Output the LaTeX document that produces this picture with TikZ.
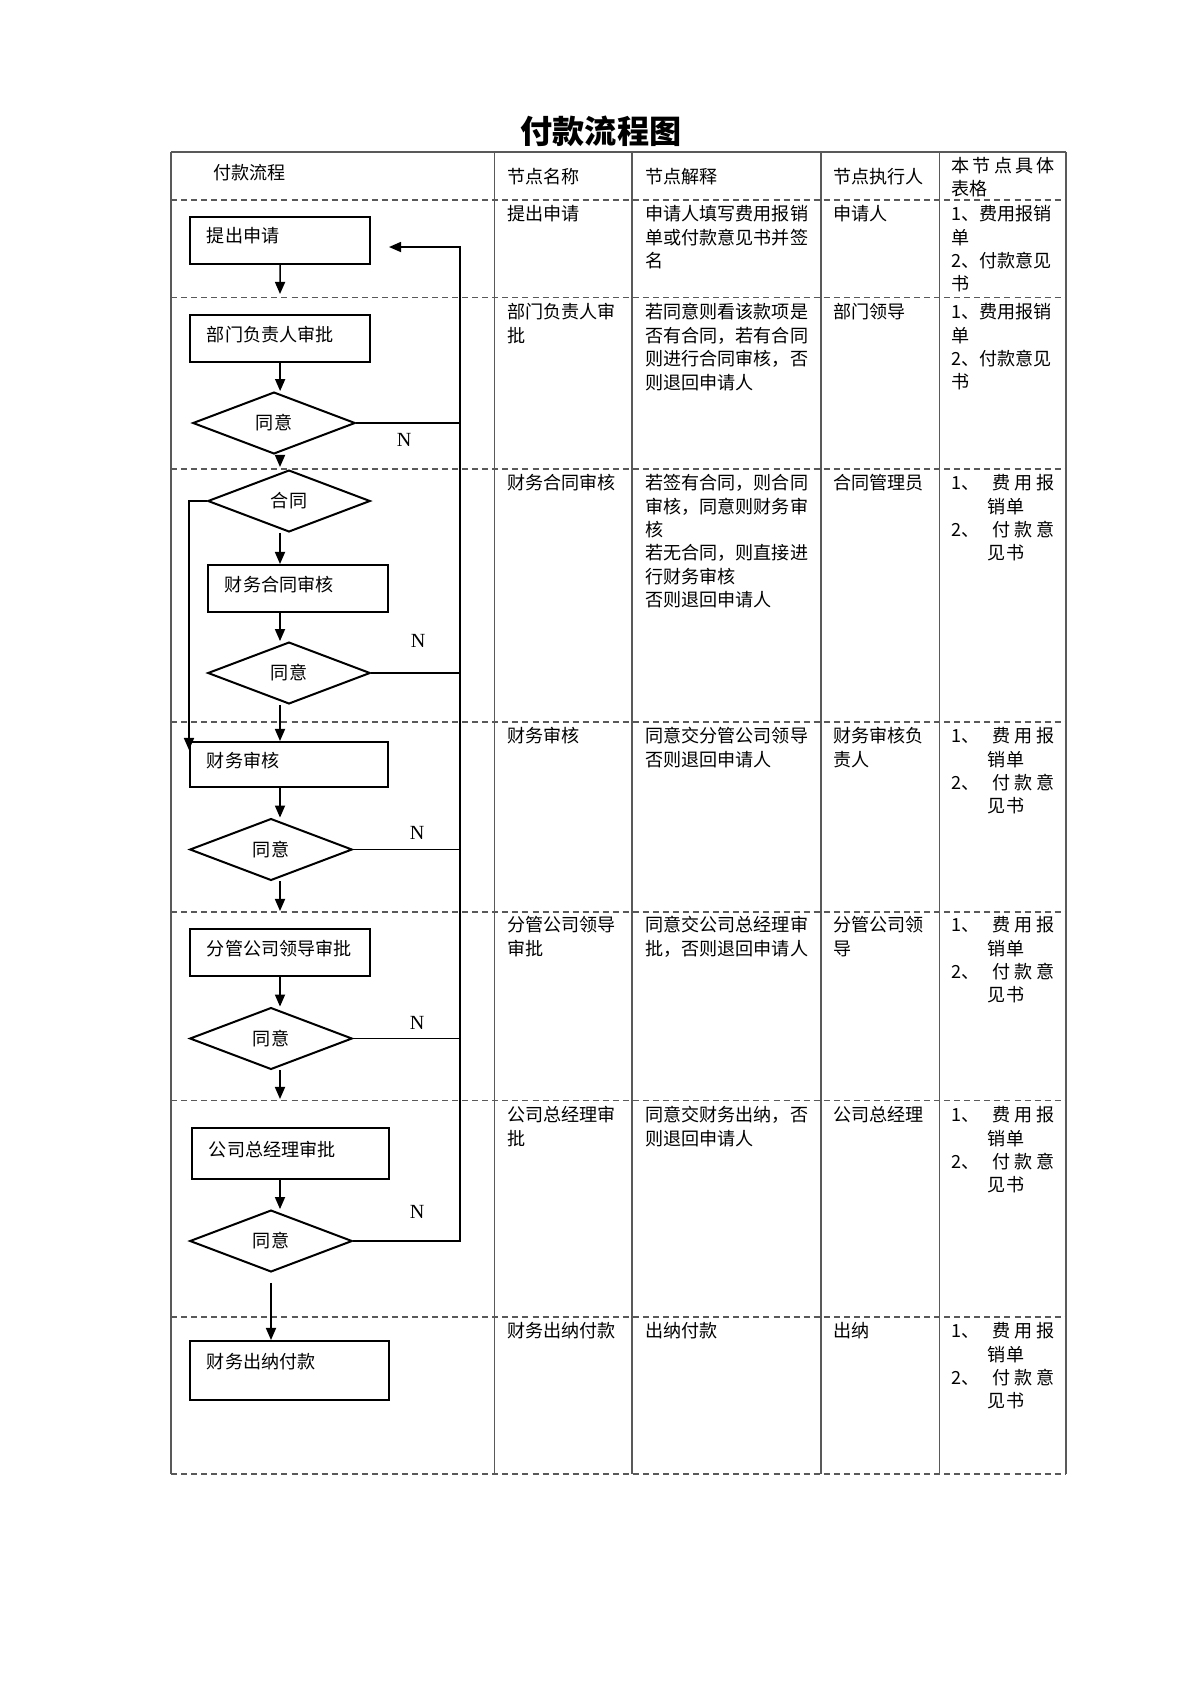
\documentclass[tikz,border=0pt]{standalone}
\usepackage{fontspec}
\setmainfont{Liberation Serif}
\newfontfamily\cjk{Noto Sans CJK SC}
\usetikzlibrary{shapes.geometric,arrows.meta}

\newcommand{\formsA}{1、费用报销\\单\\2、付款意见\\书}
\newcommand{\formsB}{\makebox[20.3pt][l]{1、}\makebox[31.3pt][s]{费\hfill 用\hfill 报}\\
  \hspace*{18.2pt}销单\\
  \makebox[20.3pt][l]{2、}\makebox[31.3pt][s]{付\hfill 款\hfill 意}\\
  \hspace*{18.2pt}见书}

\tikzset{
  frame/.style={draw=black!65, line width=0.7pt},
  rowline/.style={draw=black!65, line width=0.7pt, dash pattern=on 3pt off 2pt},
  cell/.style={anchor=north west, inner sep=0pt, align=left, font=\cjk\fontsize{9}{11.66}\selectfont},
  stepbox/.style={draw, line width=1pt, anchor=north west, inner ysep=0pt, inner xsep=8.43pt,
    align=left, text width=72.9pt, minimum height=23.3pt, text depth=5pt,
    font=\cjk\fontsize{9}{11}\selectfont},
  agree/.style={diamond, draw, line width=1pt, inner sep=0pt, minimum width=80.9pt,
    minimum height=30.8pt, font=\cjk\fontsize{9}{11}\selectfont},
  arr/.style={-{Triangle[length=6pt,width=5pt]}, line width=0.8pt},
  flow/.style={line width=0.8pt},
  nlab/.style={font=\fontsize{10}{12}\selectfont},
}

\begin{document}
\begin{tikzpicture}[x=0.175mm,y=-0.175mm]
      \fill[white] (0,0) rectangle (1200,1696);
      \useasboundingbox (0,0) rectangle (1200,1696);
      \node[font=\cjk\bfseries\fontsize{16}{19}\selectfont] (title) at (601,131) {付款流程图};

      % table
      \draw[frame] (171,152) -- (1066,152);
      \foreach \x in {171,494.5,632,821,939.5,1066}
        \draw[frame] (\x,152) -- (\x,1474);
      \foreach \y in {200,297.6,469,722,912,1100.5,1317,1474}
        \draw[rowline] (171,\y) -- (1066,\y);

      \node[cell] (h1) at (213,164) {付款流程};
      \node[cell] (h2) at (507,168) {节点名称};
      \node[cell] (h3) at (645,168) {节点解释};
      \node[cell] (h4) at (833,168) {节点执行人};
      \node[cell] (h5) at (951,156.5) {\makebox[51.6pt][s]{本\hfill 节\hfill 点\hfill 具\hfill 体}\\表格};

      \node[cell] (r1a) at (507,205) {提出申请};
      \node[cell] (r1b) at (645,205) {申请人填写费用报销\\单或付款意见书并签\\名};
      \node[cell] (r1c) at (833,205) {申请人};
      \node[cell] (r1d) at (951,205) {\formsA};

      \node[cell] (r2a) at (507,303) {部门负责人审\\批};
      \node[cell] (r2b) at (645,303) {若同意则看该款项是\\否有合同，若有合同\\则进行合同审核，否\\则退回申请人};
      \node[cell] (r2c) at (833,303) {部门领导};
      \node[cell] (r2d) at (951,303) {\formsA};

      \node[cell] (r3a) at (507,474) {财务合同审核};
      \node[cell] (r3b) at (645,474) {若签有合同，则合同\\审核，同意则财务审\\核\\若无合同，则直接进\\行财务审核\\否则退回申请人};
      \node[cell] (r3c) at (833,474) {合同管理员};

      \node[cell] (r4a) at (507,727) {财务审核};
      \node[cell] (r4b) at (645,727) {同意交分管公司领导\\否则退回申请人};
      \node[cell] (r4c) at (833,727) {财务审核负\\责人};

      \node[cell] (r5a) at (507,916) {分管公司领导\\审批};
      \node[cell] (r5b) at (645,916) {同意交公司总经理审\\批，否则退回申请人};
      \node[cell] (r5c) at (833,916) {分管公司领\\导};

      \node[cell] (r6a) at (507,1106) {公司总经理审\\批};
      \node[cell] (r6b) at (645,1106) {同意交财务出纳，否\\则退回申请人};
      \node[cell] (r6c) at (833,1106) {公司总经理};

      \node[cell] (r7a) at (507,1322) {财务出纳付款};
      \node[cell] (r7b) at (645,1322) {出纳付款};
      \node[cell] (r7c) at (833,1322) {出纳};

      \foreach \ty in {474,727,916,1106,1322}
        \node[cell] (f\ty) at (951,\ty) {\formsB};

      % flow
      \node[stepbox] (apply) at (189,216) {提出申请};
      \node[stepbox] (dept) at (189,314) {部门负责人审批};
      \node[agree] (okdept) at (274,423) {同意};
      \node[agree] (contract) at (289,501) {合同};
      \node[stepbox] (fcheck) at (207,564) {财务合同审核};
      \node[agree] (okfc) at (289,673) {同意};
      \node[stepbox, text width=81.9pt, minimum height=22.3pt] (fin) at (189,741) {财务审核};
      \node[agree] (okfin) at (271,849.5) {同意};
      \node[stepbox] (lead) at (189,928) {分管公司领导审批};
      \node[agree] (oklead) at (271,1038.5) {同意};
      \node[stepbox, text width=81.4pt, minimum height=25.3pt] (gm) at (191,1127) {公司总经理审批};
      \node[agree] (okgm) at (271,1241) {同意};
      \node[stepbox, text width=82.4pt, minimum height=29.3pt, text depth=10pt] (pay) at (189,1340) {财务出纳付款};

      \coordinate (spine) at (280,0);
      \coordinate (t1) at (280,294);
      \coordinate (t2) at (280,467);
      \coordinate (t4) at (189,750);
      \coordinate (t5) at (280,911);
      \coordinate (t6) at (280,1099);
      \coordinate (back) at (460,247);
      \coordinate (ret) at (389,247);

      \draw[arr] (apply.south) -- (t1);
      \draw[arr] (dept.south) -- (dept.south |- okdept.north);
      \draw[arr] (okdept.south -| spine) -- (t2);
      \draw[arr] (contract.south -| spine) -- (fcheck.north -| spine);
      \draw[arr] (fcheck.south -| spine) -- (okfc.north -| spine);
      \draw[arr] (okfc.south -| spine) -- (fin.north -| spine);
      \draw[arr] (contract.west) -| (t4);
      \draw[arr] (fin.south -| spine) -- (okfin.north -| spine);
      \draw[arr] (okfin.south -| spine) -- (t5);
      \draw[arr] (lead.south -| spine) -- (oklead.north -| spine);
      \draw[arr] (oklead.south -| spine) -- (t6);
      \draw[arr] (gm.south -| spine) -- (okgm.north -| spine);
      \draw[arr, shorten <=5pt] (okgm.south) -- (okgm.south |- pay.north);

      % back to the applicant
      \draw[arr] (okgm.east) -| (back) -- (ret);
      \foreach \d in {okdept,okfc,okfin,oklead}
        \draw[flow] (\d.east) -- (\d.east -| back);

      \node[nlab] (n1) at (404,440) {N};
      \node[nlab] (n2) at (418,641) {N};
      \node[nlab] (n3) at (417,833) {N};
      \node[nlab] (n4) at (417,1023) {N};
      \node[nlab] (n5) at (417,1212) {N};
\end{tikzpicture}
\end{document}
